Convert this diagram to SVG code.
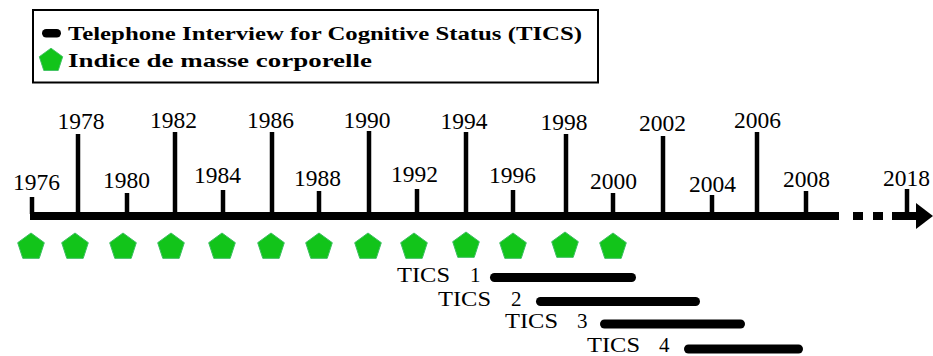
<svg xmlns="http://www.w3.org/2000/svg" width="933" height="356" viewBox="0 0 933 356">
<style>
.yr{font-size:23.5px;fill:#000;text-anchor:middle}
.tk{stroke:#000;stroke-width:4.5;fill:none}
.lg{font-weight:bold;font-size:19.5px;fill:#000}
.tc{font-size:21px;fill:#000}
.bar{stroke:#000;stroke-width:9;stroke-linecap:round}
.pent{fill:#12c41a;stroke:#3cbf60;stroke-width:1}
</style>
<defs>
<polygon id="pg" points="0,-14 13.31,-4.33 8.23,11.33 -8.23,11.33 -13.31,-4.33"/>
</defs>
<rect width="933" height="356" fill="#fff"/>
<g id="legend">
<rect x="33" y="10" width="565" height="72.5" fill="#fff" stroke="#000" stroke-width="2"/>
<rect x="42" y="29" width="19" height="8.5" rx="4.2" fill="#000"/>
<text class="lg" style="font-family:'Liberation Serif',serif" x="68" y="39.5" textLength="514" lengthAdjust="spacingAndGlyphs">Telephone Interview for Cognitive Status (TICS)</text>
<use href="#pg" class="pent" transform="translate(51,60.5) scale(0.88)"/>
<text class="lg" style="font-family:'Liberation Serif',serif" x="68" y="67" textLength="304" lengthAdjust="spacingAndGlyphs">Indice de masse corporelle</text>
</g>
<g id="connectors">
<rect x="30" y="212" width="809" height="8" fill="#000"/>
<rect x="853" y="212" width="10" height="8" fill="#000"/>
<rect x="873" y="212" width="10" height="8" fill="#000"/>
<rect x="892" y="212" width="26" height="8" fill="#000"/>
<polygon points="916,203 933,216 916,229" fill="#000"/>
</g>
<g id="ticks">
<g id="y1976"><line class="tk" x1="32" y1="197" x2="32" y2="214"/><text class="yr" style="font-family:'Liberation Serif',serif" x="36.5" y="190">1976</text></g>
<g id="y1978"><line class="tk" x1="78" y1="134" x2="78" y2="214"/><text class="yr" style="font-family:'Liberation Serif',serif" x="81" y="129">1978</text></g>
<g id="y1980"><line class="tk" x1="127" y1="193" x2="127" y2="214"/><text class="yr" style="font-family:'Liberation Serif',serif" x="126.5" y="188">1980</text></g>
<g id="y1982"><line class="tk" x1="175" y1="132" x2="175" y2="214"/><text class="yr" style="font-family:'Liberation Serif',serif" x="173.5" y="128">1982</text></g>
<g id="y1984"><line class="tk" x1="223" y1="190" x2="223" y2="214"/><text class="yr" style="font-family:'Liberation Serif',serif" x="217.5" y="183">1984</text></g>
<g id="y1986"><line class="tk" x1="272" y1="132" x2="272" y2="214"/><text class="yr" style="font-family:'Liberation Serif',serif" x="270.5" y="128">1986</text></g>
<g id="y1988"><line class="tk" x1="319" y1="191" x2="319" y2="214"/><text class="yr" style="font-family:'Liberation Serif',serif" x="317.5" y="186">1988</text></g>
<g id="y1990"><line class="tk" x1="369" y1="131" x2="369" y2="214"/><text class="yr" style="font-family:'Liberation Serif',serif" x="367" y="128">1990</text></g>
<g id="y1992"><line class="tk" x1="417" y1="189" x2="417" y2="214"/><text class="yr" style="font-family:'Liberation Serif',serif" x="414.5" y="182">1992</text></g>
<g id="y1994"><line class="tk" x1="466" y1="132" x2="466" y2="214"/><text class="yr" style="font-family:'Liberation Serif',serif" x="464" y="129">1994</text></g>
<g id="y1996"><line class="tk" x1="513" y1="190" x2="513" y2="214"/><text class="yr" style="font-family:'Liberation Serif',serif" x="512.5" y="183">1996</text></g>
<g id="y1998"><line class="tk" x1="566" y1="134" x2="566" y2="214"/><text class="yr" style="font-family:'Liberation Serif',serif" x="564" y="130">1998</text></g>
<g id="y2000"><line class="tk" x1="613" y1="193" x2="613" y2="214"/><text class="yr" style="font-family:'Liberation Serif',serif" x="613.5" y="189">2000</text></g>
<g id="y2002"><line class="tk" x1="663" y1="136" x2="663" y2="214"/><text class="yr" style="font-family:'Liberation Serif',serif" x="662.5" y="131">2002</text></g>
<g id="y2004"><line class="tk" x1="712" y1="195" x2="712" y2="214"/><text class="yr" style="font-family:'Liberation Serif',serif" x="712.5" y="192">2004</text></g>
<g id="y2006"><line class="tk" x1="757" y1="132" x2="757" y2="214"/><text class="yr" style="font-family:'Liberation Serif',serif" x="757.5" y="128">2006</text></g>
<g id="y2008"><line class="tk" x1="806" y1="191" x2="806" y2="214"/><text class="yr" style="font-family:'Liberation Serif',serif" x="806.5" y="187">2008</text></g>
<g id="y2018"><line class="tk" x1="907" y1="189" x2="907" y2="214"/><text class="yr" style="font-family:'Liberation Serif',serif" x="906.5" y="186">2018</text></g>
</g>
<g id="bmi">
<use href="#pg" class="pent" x="31" y="247"/>
<use href="#pg" class="pent" x="75" y="247"/>
<use href="#pg" class="pent" x="123" y="247"/>
<use href="#pg" class="pent" x="171" y="247"/>
<use href="#pg" class="pent" x="222" y="247"/>
<use href="#pg" class="pent" x="271" y="247"/>
<use href="#pg" class="pent" x="319" y="247"/>
<use href="#pg" class="pent" x="368" y="247"/>
<use href="#pg" class="pent" x="414" y="247"/>
<use href="#pg" class="pent" x="466" y="246"/>
<use href="#pg" class="pent" x="513" y="247"/>
<use href="#pg" class="pent" x="565" y="246"/>
<use href="#pg" class="pent" x="613" y="247"/>
</g>
<g id="tics">
<g id="tics1"><text class="tc" style="font-family:'Liberation Serif',serif" y="282"><tspan x="397" textLength="53" lengthAdjust="spacingAndGlyphs">TICS</tspan><tspan x="470">1</tspan></text><line class="bar" x1="494.5" y1="277.5" x2="631.5" y2="277.5"/></g>
<g id="tics2"><text class="tc" style="font-family:'Liberation Serif',serif" y="306"><tspan x="438" textLength="53" lengthAdjust="spacingAndGlyphs">TICS</tspan><tspan x="511">2</tspan></text><line class="bar" x1="540.5" y1="301.5" x2="695.5" y2="301.5"/></g>
<g id="tics3"><text class="tc" style="font-family:'Liberation Serif',serif" y="328"><tspan x="505" textLength="53" lengthAdjust="spacingAndGlyphs">TICS</tspan><tspan x="577">3</tspan></text><line class="bar" x1="604.5" y1="324" x2="740.5" y2="324"/></g>
<g id="tics4"><text class="tc" style="font-family:'Liberation Serif',serif" y="352"><tspan x="587" textLength="53" lengthAdjust="spacingAndGlyphs">TICS</tspan><tspan x="659">4</tspan></text><line class="bar" x1="688.5" y1="349" x2="798.5" y2="349"/></g>
</g>
</svg>
